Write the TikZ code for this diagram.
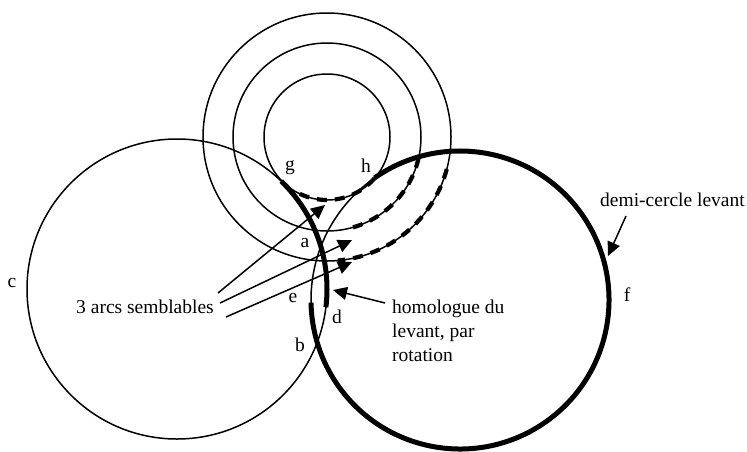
\documentclass[tikz,border=0pt]{standalone}
\usepackage{fontspec}
\setmainfont{Liberation Serif}
\usetikzlibrary{arrows.meta}

\begin{document}
\begin{tikzpicture}[x=1pt,y=-1pt,>={Triangle[length=14pt,width=13pt]},
    ring/.style={line width=1.5pt},
    rise/.style={line width=5pt},
    dashrise/.style={line width=4.2pt,dash pattern=on 10pt off 8pt},
    lbl/.style={inner sep=0pt,font=\fontsize{19.5}{24}\selectfont},
    pointer/.style={->,line width=1.5pt}]
  \useasboundingbox (0,0) rectangle (747,451);
  % centres
  \coordinate (C) at (177,289);
  \coordinate (F) at (460,300);
  \coordinate (K) at (327,137);
  % thin circles
  \draw[ring] (C) circle[radius=150];
  \draw[ring] (F) circle[radius=149];
  \foreach \r in {63,94,124}\draw[ring] (K) circle[radius=\r];
  % thick arcs
  \draw[rise] (C) ++(-46:150) arc[start angle=-46,end angle=7,radius=150];
  \draw[rise] (F) ++(-125:149) arc[start angle=-125,end angle=179,radius=149];
  \foreach \r/\a/\b in {63/41/119,94/13/78,124/15/85}
    \draw[dashrise] (K) ++(\a:\r) arc[start angle=\a,end angle=\b,radius=\r];
  % letters
  \node[lbl] (lc) at (12,283) {c};
  \node[lbl] (lg) at (290,168) {g};
  \node[lbl] (lh) at (366,166) {h};
  \node[lbl] (la) at (305,243) {a};
  \node[lbl] (le) at (293,298) {e};
  \node[lbl] (ld) at (337,317) {d};
  \node[lbl] (lb) at (300,345) {b};
  \node[lbl] (lf) at (627,295) {f};
  % texts
  \node[lbl] (arcs) at (145,307) {3 arcs semblables};
  \node[lbl,anchor=west,align=left] (homol) at (392,331) {homologue du\\levant, par\\rotation};
  \node[lbl,anchor=west] (demi) at (600,200) {demi-cercle levant};
  % pointers
  \coordinate (s1) at (218,293); \coordinate (t1) at (325,205);
  \coordinate (s2) at (220,303); \coordinate (t2) at (352,240);
  \coordinate (s3) at (226,317); \coordinate (t3) at (352,262);
  \coordinate (s4) at (385,303); \coordinate (t4) at (333,290);
  \coordinate (s5) at (626,216); \coordinate (t5) at (608,256);
  \foreach \u/\v in {s1/t1,s2/t2,s3/t3,s4/t4,s5/t5}\draw[pointer] (\u)--(\v);
\end{tikzpicture}
\end{document}
